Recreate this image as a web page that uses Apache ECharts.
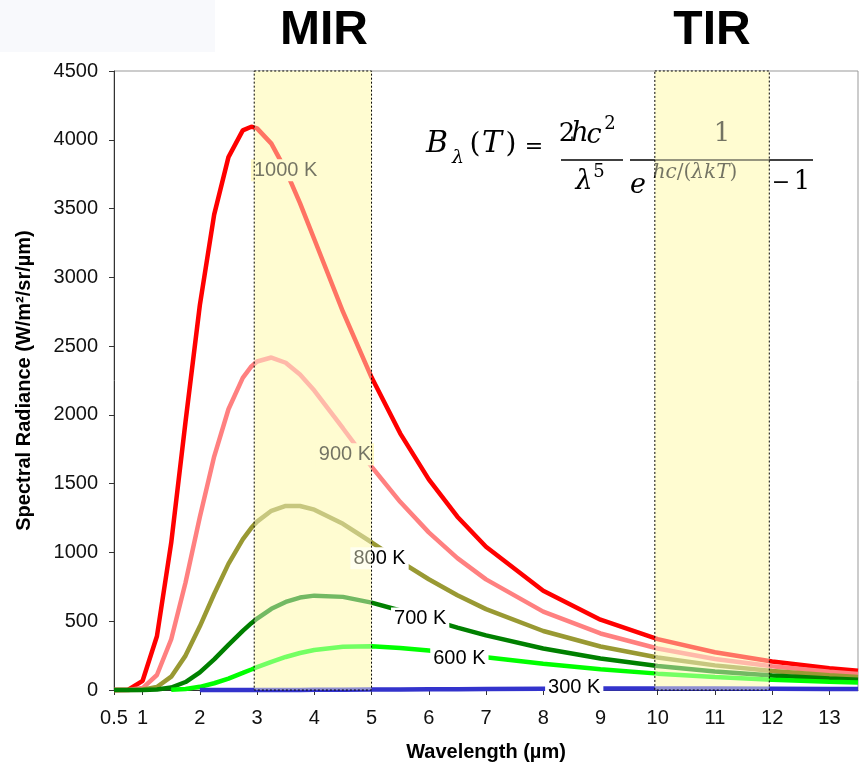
<!DOCTYPE html>
<html>
<head>
<meta charset="utf-8">
<script src="https://cdn.jsdelivr.net/npm/echarts@6/dist/echarts.min.js"></script>
<style>
  html, body { margin: 0; padding: 0; background: #fff; }
  #chart { width: 865px; height: 770px; }
</style>
</head>
<body>
<div id="chart"></div>
<script>
// wavelengths (µm) and spectral radiance (W/m²/sr/µm)
var wavelength = [0.5, 0.75, 1, 1.25, 1.5, 1.75, 2, 2.25, 2.5, 2.75, 2.9, 3, 3.25, 3.5, 3.75, 4, 4.5, 5, 5.5, 6, 6.5, 7, 8, 9, 10, 11, 12, 13, 13.5];
var r1000 = [0, 2, 67, 391, 1071, 1951, 2798, 3456, 3874, 4068, 4095, 4083, 3972, 3779, 3539, 3277, 2750, 2273, 1866, 1531, 1260, 1041, 721, 511, 370, 274, 207, 158, 140];
var r900 = [0, 0, 14, 109, 369, 782, 1257, 1697, 2041, 2269, 2352, 2388, 2417, 2379, 2293, 2177, 1903, 1624, 1368, 1146, 959, 804, 570, 411, 302, 226, 172, 133, 117];
var r800 = [0, 0, 2, 22, 97, 250, 463, 698, 917, 1095, 1179, 1224, 1303, 1338, 1338, 1311, 1208, 1074, 935, 805, 689, 588, 429, 316, 236, 179, 138, 107, 95];
var r700 = [0, 0, 0, 3, 18, 58, 128, 223, 328, 430, 486, 519, 590, 640, 672, 686, 677, 635, 578, 515, 454, 397, 302, 229, 175, 135, 105, 83, 74];
var r600 = [null, null, null, null, 2, 8, 23, 49, 83, 124, 149, 166, 205, 240, 269, 291, 315, 318, 306, 287, 263, 238, 191, 151, 119, 94, 75, 60, 54];
var r300 = [null, null, null, null, null, null, 0, 0, 0, 0, 0, 0, 0, 0, 0, 1, 2, 3, 4, 5, 6, 7.5, 9, 10, 10, 10, 9, 8, 8];

var curveNames = ['1000 K', '900 K', '800 K', '700 K', '600 K', '300 K'];
var curveValues = [r1000, r900, r800, r700, r600, r300];
var curveColors = ['#ff0000', '#ff8080', '#999933', '#008000', '#00ff00', '#3333cc'];

// where each curve label sits (wavelength of the point it is attached to)
var labelAt = [3.5, 4.5, 5, 5.5, 6.5, 8];
var labelOffset = [[0, 0], [2, 26], [8, 16], [20, 8], [2, 5], [31, -1]];

// MIR and TIR windows (µm)
var bands = [[2.95, 5.0], [9.95, 11.95]];
var bandNames = ['MIR', 'TIR'];

var xTicks = [0.5, 1, 2, 3, 4, 5, 6, 7, 8, 9, 10, 11, 12, 13];
var yMin = 0, yMax = 4500;

var bandBase = '#fffac8';
var bandTop = 'rgba(255,255,220,0.45)';

var chart = echarts.init(document.getElementById('chart'));

function bandRect(api, style) {
    var p0 = api.coord([api.value(0), yMax]);
    var p1 = api.coord([api.value(1), yMin]);
    return {
        type: 'rect',
        shape: { x: p0[0], y: p0[1], width: p1[0] - p0[0], height: p1[1] - p0[1] },
        style: style
    };
}

var series = [];

// band fill below the curves
series.push({
    type: 'custom',
    silent: true,
    z: 1,
    data: bands.map(function (b) { return [b[0], b[1], yMax]; }),
    encode: { x: [0, 1], y: 2 },
    renderItem: function (params, api) {
        return bandRect(api, { fill: bandBase });
    }
});

for (var s = 0; s < curveNames.length; s++) {
    var pts = [];
    for (var i = 0; i < wavelength.length; i++) {
        var v = curveValues[s][i];
        if (v === null) continue;
        var item = { value: [wavelength[i], v] };
        if (wavelength[i] === labelAt[s]) {
            var inBand = wavelength[i] > bands[0][0] && wavelength[i] < bands[0][1] - 0.2;
            item.label = {
                show: true,
                position: 'inside',
                formatter: curveNames[s],
                offset: labelOffset[s],
                color: '#000',
                fontFamily: 'Liberation Sans',
                fontSize: 20,
                backgroundColor: inBand ? bandBase : '#fff',
                padding: [1, 3]
            };
        }
        pts.push(item);
    }
    series.push({
        name: curveNames[s],
        type: 'line',
        data: pts,
        z: 3,
        clip: false,
        silent: true,
        showSymbol: true,
        symbol: 'circle',
        symbolSize: 0,
        label: { show: false },
        lineStyle: { color: curveColors[s], width: 4.5 },
        itemStyle: { color: curveColors[s] }
    });
}

// translucent band on top, which pales the curves and text under it
series.push({
    type: 'custom',
    silent: true,
    z: 10,
    data: bands.map(function (b) { return [b[0], b[1], yMax]; }),
    encode: { x: [0, 1], y: 2 },
    renderItem: function (params, api) {
        return bandRect(api, { fill: bandTop, stroke: '#000', lineWidth: 1, lineDash: [2, 2] });
    }
});

var serif = 'DejaVu Serif';
function glyph(text, x, y, size, italic) {
    return {
        type: 'text', x: x, y: y, z: 2,
        style: {
            text: text, fill: '#000', align: 'center', verticalAlign: 'middle',
            font: (italic ? 'italic ' : '') + size + 'px "' + serif + '"'
        }
    };
}

var graphics = [
    { type: 'rect', z: 2, shape: { x: 0, y: 0, width: 215, height: 52 }, style: { fill: '#f8f9fc' } },
    {
        type: 'text', x: 324, y: 31, z: 2,
        style: { text: bandNames[0], fill: '#000', align: 'center', verticalAlign: 'middle', font: 'bold 48px "Liberation Sans"' }
    },
    {
        type: 'text', x: 712, y: 31, z: 2,
        style: { text: bandNames[1], fill: '#000', align: 'center', verticalAlign: 'middle', font: 'bold 48px "Liberation Sans"' }
    },
    // B_λ(T) = 2hc²/λ⁵ · 1/(e^{hc/(λkT)} − 1)
    glyph('B', 437, 144, 30, true),
    glyph('λ', 458, 158, 19, true),
    glyph('(', 475, 145, 28, false),
    glyph('T', 492, 144, 30, true),
    glyph(')', 511, 145, 28, false),
    glyph('=', 534, 147, 22, false),
    glyph('2', 567, 134, 26, false),
    glyph('h', 580, 134, 27, true),
    glyph('c', 594, 136, 27, true),
    glyph('2', 610, 124, 18, false),
    { type: 'line', z: 2, shape: { x1: 561, y1: 160, x2: 623, y2: 160 }, style: { stroke: '#000', lineWidth: 1.5 } },
    glyph('λ', 584, 182, 27, true),
    glyph('5', 599, 172, 18, false),
    { type: 'line', z: 2, shape: { x1: 630, y1: 160, x2: 813, y2: 160 }, style: { stroke: '#000', lineWidth: 1.5 } },
    glyph('1', 722, 134, 26, false),
    glyph('e', 638, 186, 27, true),
    {
        type: 'text', x: 695, y: 173, z: 2,
        style: {
            text: '{i|hc}{n|/(}{i|λkT}{n|)}', fill: '#000', align: 'center', verticalAlign: 'middle',
            rich: {
                i: { fontFamily: serif, fontStyle: 'italic', fontSize: 20, fill: '#000' },
                n: { fontFamily: serif, fontSize: 20, fill: '#000' }
            }
        }
    },
    glyph('−', 781, 183, 22, false),
    glyph('1', 802, 182, 26, false)
];

chart.setOption({
    animation: false,
    backgroundColor: '#fff',
    grid: {
        left: 114, right: 7, top: 71, bottom: 80,
        show: true, borderColor: '#999', borderWidth: 1, backgroundColor: 'transparent'
    },
    xAxis: {
        type: 'value',
        min: 0.5,
        max: 13.5,
        name: 'Wavelength (µm)',
        nameLocation: 'middle',
        nameGap: 52,
        nameTextStyle: { fontFamily: 'Liberation Sans', fontWeight: 'bold', fontSize: 20, color: '#000' },
        splitLine: { show: false },
        axisLine: { lineStyle: { color: '#333', width: 1 } },
        axisTick: { show: true, length: 5, lineStyle: { color: '#333' }, customValues: xTicks },
        axisLabel: {
            customValues: xTicks,
            margin: 18,
            formatter: function (v) { return String(v); },
            fontFamily: 'Liberation Sans', fontSize: 20, color: '#111'
        }
    },
    yAxis: {
        type: 'value',
        min: yMin,
        max: yMax,
        interval: 500,
        name: 'Spectral Radiance (W/m²/sr/µm)',
        nameLocation: 'middle',
        nameGap: 80,
        nameTextStyle: { fontFamily: 'Liberation Sans', fontWeight: 'bold', fontSize: 20, color: '#000' },
        splitLine: { show: false },
        axisLine: { show: true, lineStyle: { color: '#333', width: 1 } },
        axisTick: { show: true, length: 5, lineStyle: { color: '#333' } },
        axisLabel: {
            margin: 16,
            formatter: function (v) { return String(v); },
            fontFamily: 'Liberation Sans', fontSize: 20, color: '#111'
        }
    },
    graphic: graphics,
    series: series
});
</script>
</body>
</html>
